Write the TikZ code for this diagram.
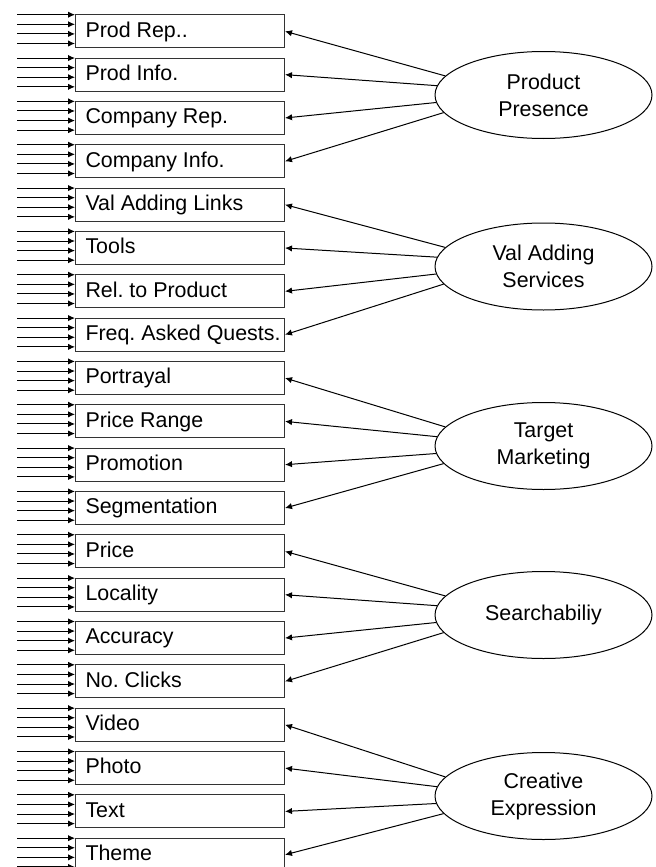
\documentclass[tikz,border=0pt]{standalone}
\usepackage{fontspec}
\setmainfont{Liberation Sans}
\usetikzlibrary{arrows.meta,positioning,shapes.geometric}
\tikzset{
  ind_box/.style = {rectangle, draw=black!80, inner xsep=5pt, inner ysep=0pt,
    minimum height=16.5pt, text height=7.7pt, text depth=2pt,
    execute at begin node={\hbox to 94.5pt\bgroup},
    execute at end node={\hfil\hskip 0pt minus 1fil\egroup}},% indicator, left aligned text
  con_ell/.style = {ellipse, draw=black, align=center, inner sep=0pt,
    minimum width=108.5pt, minimum height=43.5pt}% construct
}

\begin{document}
\frenchspacing
\begin{tikzpicture}[->,>={Latex[length=3.5pt,width=3.2pt]},line width=0.5pt,
  node distance=4.67pt,font=\fontsize{10.7}{13.5}\selectfont]
\useasboundingbox (0,0) rectangle (327.5pt,-433.5pt);

% indicators
\node [ind_box, anchor=north west] (prod_rep) at (37.5pt,-7.15pt) {Prod Rep..};
\node [ind_box, below=of prod_rep] (prod_info) {Prod Info.};
\node [ind_box, below=of prod_info] (comp_rep) {Company Rep.};
\node [ind_box, below=of comp_rep] (comp_info) {Company Info.};
\node [ind_box, below=of comp_info] (val_links) {Val Adding Links};
\node [ind_box, below=of val_links] (tools) {Tools};
\node [ind_box, below=of tools] (rel_prod) {Rel. to Product};
\node [ind_box, below=of rel_prod] (faq) {Freq. Asked Quests.};
\node [ind_box, below=of faq] (portrayal) {Portrayal};
\node [ind_box, below=of portrayal] (price_rng) {Price Range};
\node [ind_box, below=of price_rng] (promo) {Promotion};
\node [ind_box, below=of promo] (segment) {Segmentation};
\node [ind_box, below=of segment] (price) {Price};
\node [ind_box, below=of price] (locality) {Locality};
\node [ind_box, below=of locality] (accuracy) {Accuracy};
\node [ind_box, below=of accuracy] (clicks) {No. Clicks};
\node [ind_box, below=of clicks] (video) {Video};
\node [ind_box, below=of video] (photo) {Photo};
\node [ind_box, below=of photo] (text) {Text};
\node [ind_box, below=of text] (theme) {Theme};

% constructs
\node [con_ell] (prod_pres) at (271.75pt,-47.5pt) {Product\\Presence};
\node [con_ell] (val_serv) at (271.75pt,-133.25pt) {Val Adding\\Services};
\node [con_ell] (targ_mkt) at (271.75pt,-223pt) {Target\\Marketing};
\node [con_ell] (search) at (271.75pt,-307.5pt) {Searchabiliy};
\node [con_ell] (creat_exp) at (271.75pt,-398pt) {Creative\\Expression};

% four inputs on each indicator
\foreach \n in {prod_rep,prod_info,comp_rep,comp_info,val_links,tools,rel_prod,
  faq,portrayal,price_rng,promo,segment,price,locality,accuracy,clicks,video,
  photo,text,theme}
  \foreach \dy in {0.2,5,9.8,14.6}
    \draw ([xshift=-29pt,yshift=-\dy pt]\n.north west)
      -- ([yshift=-\dy pt]\n.north west);

\draw (prod_pres.169) -- (prod_rep.east);
\draw (prod_pres.175) -- (prod_info.east);
\draw (prod_pres.184) -- (comp_rep.east);
\draw (prod_pres.190) -- (comp_info.east);

\draw (val_serv.169) -- (val_links.east);
\draw (val_serv.175) -- (tools.east);
\draw (val_serv.184) -- (rel_prod.east);
\draw (val_serv.190) -- (faq.east);

\draw (targ_mkt.169) -- (portrayal.east);
\draw (targ_mkt.175) -- (price_rng.east);
\draw (targ_mkt.184) -- (promo.east);
\draw (targ_mkt.190) -- (segment.east);

\draw (search.169) -- (price.east);
\draw (search.175) -- (locality.east);
\draw (search.184) -- (accuracy.east);
\draw (search.190) -- (clicks.east);

\draw (creat_exp.169) -- (video.east);
\draw (creat_exp.175) -- (photo.east);
\draw (creat_exp.184) -- (text.east);
\draw (creat_exp.190) -- (theme.east);
\end{tikzpicture}
\end{document}
